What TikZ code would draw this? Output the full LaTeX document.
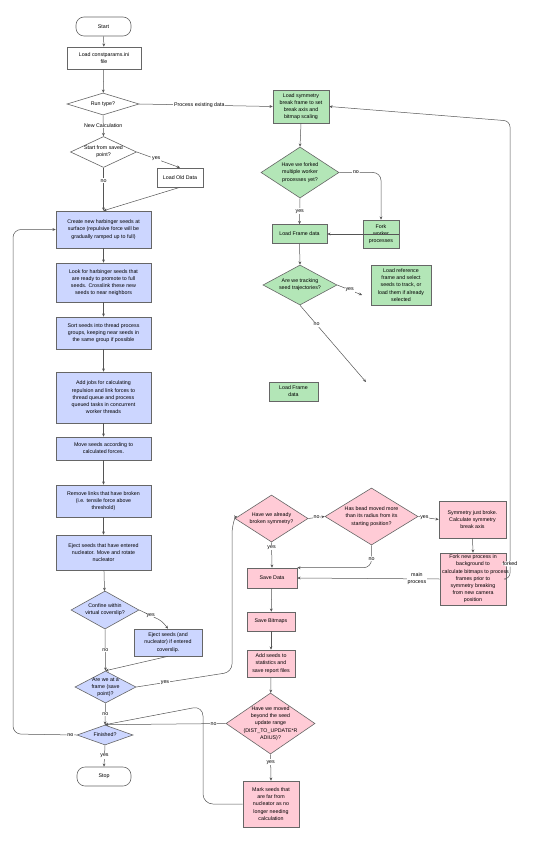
\documentclass[tikz,border=0pt]{standalone}
\usepackage{fontspec}
\setmainfont{Liberation Sans}
\usetikzlibrary{shapes.geometric,arrows.meta}
\definecolor{bfill}{HTML}{CCD6FF}
\definecolor{gfill}{HTML}{B3E6B7}
\definecolor{pfill}{HTML}{FFCBD6}
\definecolor{bord}{HTML}{666666}
\definecolor{lcol}{HTML}{555555}
\newcommand\flowfont{\fontsize{5.3}{7.2}\selectfont}
\begin{document}
\begin{tikzpicture}[x=1pt,y=-1pt,
  box/.style={draw=bord, line width=0.6pt, inner sep=0pt, align=center, font=\flowfont},
  bbox/.style={box, fill=bfill},
  gbox/.style={box, fill=gfill},
  pbox/.style={box, fill=pfill},
  term/.style={box, fill=white, rounded corners=8pt},
  dia/.style={diamond, draw=bord, line width=0.6pt, inner sep=0pt},
  every label/.style={font=\flowfont, align=center, inner sep=0pt},
  lbl/.style={fill=white, inner sep=0.8pt, font=\flowfont, align=center},
  arr/.style={draw=lcol, line width=0.5pt, -{Stealth[length=3.2pt,width=2.8pt]}},
  ln/.style={draw=lcol, line width=0.5pt}]
\useasboundingbox (0,0) rectangle (534,850);

% left column
\node[term, minimum width=55, minimum height=19] (start) at (103.5,26.5) {Start};
\node[box, fill=white, minimum width=74, minimum height=22] (cp) at (104,58) {Load constparams.ini\\file};
\node[dia, fill=white, minimum width=72, minimum height=22, label=center:{Run type?}] (run) at (103,104) {};
\node[dia, fill=white, minimum width=66, minimum height=31, label=center:{Start from saved\\point?}] (sfs) at (103.5,152) {};
\node[box, fill=white, minimum width=46, minimum height=19] (lod) at (180,177.5) {Load Old Data};
\node[bbox, minimum width=95, minimum height=37] (create) at (103.5,229.5) {Create new harbinger seeds at\\surface (repulsive force will be\\gradually ramped up to full)};
\node[bbox, minimum width=95, minimum height=39] (look) at (103.5,282.5) {Look for harbinger seeds that\\are ready to promote to full\\seeds. Crosslink these new\\seeds to near neighbors};
\node[bbox, minimum width=95, minimum height=32] (sort) at (103.5,333) {Sort seeds into thread process\\groups, keeping near seeds in\\the same group if possible};
\node[bbox, minimum width=95, minimum height=51] (jobs) at (103.5,397.5) {Add jobs for calculating\\repulsion and link forces to\\thread queue and process\\queued tasks in concurrent\\worker threads};
\node[bbox, minimum width=95, minimum height=23] (move) at (103.5,448.5) {Move seeds according to\\calculated forces.};
\node[bbox, minimum width=95, minimum height=32] (rem) at (103.5,501) {Remove links that have broken\\(i.e. tensile force above\\threshold)};
\node[bbox, minimum width=95, minimum height=35] (eject) at (103.5,552.5) {Eject seeds that have entered\\nucleator. Move and rotate\\nucleator};
\node[dia, fill=bfill, minimum width=68, minimum height=38, label=center:{Confine within\\virtual coverslip?}] (conf) at (105,610) {};
\node[bbox, minimum width=68, minimum height=27] (ejc) at (168,642.5) {Eject seeds (and\\nucleator) if entered\\coverslip.};
\node[dia, fill=bfill, minimum width=61, minimum height=32, label=center:{Are we at a\\frame (save\\point)?}] (frame) at (105.5,687) {};
\node[dia, fill=bfill, minimum width=56, minimum height=20, label=center:{Finished?}] (fin) at (105,735) {};
\node[term, minimum width=54, minimum height=19] (stop) at (104,776.5) {Stop};

% green column
\node[gbox, minimum width=56, minimum height=33] (lsym) at (301,106.5) {Load symmetry\\break frame to set\\break axis and\\bitmap scaling};
\node[dia, fill=gfill, minimum width=78, minimum height=51, label=center:{Have we forked\\multiple worker\\processes yet?}] (fk) at (300,172.5) {};
\node[gbox, minimum width=36, minimum height=28] (fw) at (381,234) {Fork\\worker\\processes};
\node[gbox, minimum width=55, minimum height=19] (lfd) at (299.5,234) {Load Frame data};
\node[dia, fill=gfill, minimum width=74, minimum height=40, label=center:{Are we tracking\\seed trajectories?}] (trk) at (300,285) {};
\node[gbox, minimum width=60, minimum height=40] (lref) at (401,285) {Load reference\\frame and select\\seeds to track, or\\load them if already\\selected};
\node[gbox, minimum width=49, minimum height=19] (lfd2) at (293.5,391.5) {Load Frame\\data};
\coordinate (tyes) at (362,295);
\coordinate (tno) at (366,382);

% pink
\node[dia, fill=pfill, minimum width=73, minimum height=47, label=center:{Have we already\\broken symmetry?}] (brk) at (271.5,518.5) {};
\node[dia, fill=pfill, minimum width=93, minimum height=57, label=center:{Has bead moved more\\than its radius from its\\starting position?}] (hb) at (371.5,516.5) {};
\node[pbox, minimum width=67, minimum height=37] (sym) at (472.5,519.5) {Symmetry just broke.\\Calculate symmetry\\break axis};
\node[pbox, minimum width=66, minimum height=52] (fnp) at (473,579) {Fork new process in\\background to\\\makebox[62pt][l]{calculate bitmaps to process}\\frames prior to\\symmetry breaking\\from new camera\\position};
\node[pbox, minimum width=50, minimum height=20] (sd) at (272,578) {Save Data};
\node[pbox, minimum width=48, minimum height=19] (sb) at (271,621.5) {Save Bitmaps};
\node[pbox, minimum width=48, minimum height=27] (as) at (271,663.5) {Add seeds to\\statistics and\\save report files};
\node[dia, fill=pfill, minimum width=89, minimum height=61, label=center:{Have we moved\\beyond the seed\\update range\\(DIST\_TO\_UPDATE*R\\ADIUS)?}] (mv) at (270.5,723.5) {};
\node[pbox, minimum width=56, minimum height=46] (mark) at (271,804) {Mark seeds that\\are far from\\nucleator as no\\longer needing\\calculation};

% connectors left
\draw[arr] (start) -- (cp);
\draw[arr] (cp) -- (run);
\draw[arr] (run.east) -- node[lbl,pos=0.45]{Process existing data} (lsym.west);
\draw[arr] (run.south) -- node[lbl]{New Calculation} (sfs.north);
\draw[arr] (sfs.east) -- node[lbl,pos=0.45]{yes} (lod.north);
\draw[arr] (sfs.south) -- node[lbl,pos=0.3]{no} (create.north);
\draw[arr] (lod.south) -- (create.north);
\draw[arr] (create) -- (look);
\draw[arr] (look) -- (sort);
\draw[arr] (sort) -- (jobs);
\draw[arr] (jobs) -- (move);
\draw[arr] (move) -- (rem);
\draw[arr] (rem) -- (eject);
\draw[arr] (eject) -- (conf);
\draw[arr, rounded corners=4] (conf.east) -- node[lbl]{yes} (162,621) -- (ejc.north);
\draw[arr] (conf.south) -- node[lbl]{no} (frame.north);
\draw[arr] (ejc.south) -- (frame.north);
\draw[arr, rounded corners=8] (frame.east) -- node[lbl,pos=0.3]{yes} (232,672) -- (232,526) -- (brk.west);
\draw[arr] (frame.south) -- node[lbl]{no} (fin.north);
\draw[arr, rounded corners=8] (fin.west) -- node[lbl,pos=0.1]{no} (13,734) -- (13,229.5) -- (create.west);
\draw[arr] (fin.south) -- node[lbl]{yes} (stop.north);

% connectors green
\draw[arr] (lsym.south) -- (fk.north);
\draw[arr, rounded corners=8] (fk.east) -- node[lbl,pos=0.4]{no} (381,172.5) -- (fw.north);
\draw[arr] (fk.south) -- node[lbl]{yes} (lfd.north);
\draw[arr] (fw.east) -- (lfd.east);
\draw[arr] (lfd.south) -- (trk.north);
\draw[arr] (trk.east) -- node[lbl]{yes} (tyes);
\draw[arr] (trk.south) -- node[lbl,pos=0.25]{no} (tno);

% connectors pink
\draw[arr] (brk.east) -- node[lbl]{no} (hb.west);
\draw[arr] (hb.east) -- node[lbl,pos=0.3]{yes} (sym.west);
\draw[arr] (sym.south) -- (fnp.north);
\draw[arr] (brk.south) -- node[lbl,pos=0.2]{yes} (sd.north);
\draw[arr, rounded corners=8] (hb.south) |- node[lbl,pos=0.3]{no} (sd.north east);
\draw[arr] (fnp.west) -- node[lbl,pos=0.16]{main\\process} (sd.east);
\draw[arr, rounded corners=6] (fnp.east) -- (510,579) -- node[lbl,pos=0.033]{forked} (510,121) -- (lsym.east);
\draw[arr] (sd) -- (sb);
\draw[arr] (sb) -- (as);
\draw[arr] (as) -- (mv);
\draw[arr] (mv.south) -- node[lbl,pos=0.3]{yes} (mark.north);
\draw[arr, rounded corners=10] (mark.west) -- (203,804) -- (203,706) -- (fin.north);
\draw[arr] (mv.west) -- node[lbl,pos=0.1]{no} (fin.north);
\end{tikzpicture}
\end{document}
